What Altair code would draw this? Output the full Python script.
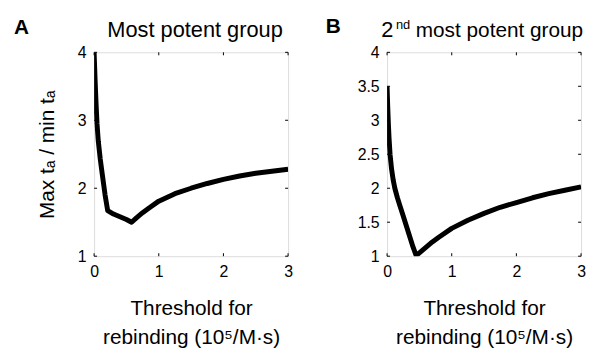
import altair as alt
import pandas as pd

# Panel A: Most potent group
xA = [0, 0.015, 0.03, 0.045, 0.065, 0.095, 0.127, 0.17, 0.21, 0.3, 0.4, 0.5, 0.58,
      0.65, 0.75, 0.85, 1.0, 1.25, 1.5, 1.75, 2.0, 2.25, 2.5, 2.75, 3.0]
yA = [4.0, 3.6, 3.25, 2.95, 2.69, 2.43, 2.2, 1.9, 1.67, 1.62, 1.58, 1.54, 1.5,
      1.56, 1.64, 1.71, 1.81, 1.92, 2.0, 2.07, 2.13, 2.18, 2.22, 2.25, 2.28]

# Panel B: 2nd most potent group
xB = [0, 0.01, 0.02, 0.03, 0.046, 0.07, 0.095, 0.12, 0.16, 0.2, 0.25, 0.3, 0.35, 0.4,
      0.45, 0.5, 0.6, 0.7, 0.8, 1.0, 1.25, 1.5, 1.75, 2.0, 2.25, 2.5, 2.75, 3.0]
yB = [3.5, 3.2, 2.95, 2.75, 2.5, 2.28, 2.12, 2.0, 1.86, 1.74, 1.59, 1.44, 1.29, 1.14,
      1.01, 1.05, 1.13, 1.21, 1.28, 1.41, 1.53, 1.63, 1.72, 1.79, 1.86, 1.92, 1.97, 2.02]

x_ticks = [0, 1, 2, 3]
yA_ticks = [1, 2, 3, 4]
yB_ticks = [1, 1.5, 2, 2.5, 3, 3.5, 4]

x_title = ["Threshold for", "rebinding (10\u2075/M\u00b7s)"]
y_title = "Max t\u2090 / min t\u2090"

W, H = 196, 206
FONT = "Liberation Sans"
TL = 3  # inward tick length


def one_row():
    return pd.DataFrame({"d": [0]})


def panel(xs, ys, yticks, ytitle, texts):
    xsc = alt.Scale(domain=[0, 3], nice=False, zero=False)
    ysc = alt.Scale(domain=[1, 4], nice=False, zero=False)
    xaxis = alt.Axis(values=x_ticks, ticks=False, domain=False, grid=False,
                     labelFontSize=16, labelPadding=8, labelFont=FONT,
                     labelColor="black", labelFlush=False, format="~g",
                     title=x_title, titleFont=FONT, titleFontSize=21,
                     titleFontWeight="normal", titleLineHeight=29,
                     titlePadding=18, titleColor="black")
    yargs = dict(values=yticks, ticks=False, domain=False, grid=False,
                 labelFontSize=16, labelPadding=8, labelFont=FONT,
                 labelColor="black", labelFlush=False, format="~g",
                 labelOverlap=False)
    if ytitle:
        yargs.update(title=ytitle, titleFont=FONT, titleFontSize=21,
                     titleFontWeight="normal", titlePadding=20, titleColor="black")
    else:
        yargs.update(title="")
    yaxis = alt.Axis(**yargs)

    df = pd.DataFrame({"x": xs, "y": ys})
    line = alt.Chart(df).mark_line(color="black", strokeWidth=5, clip=True,
                                   strokeJoin="round").encode(
        x=alt.X("x:Q", scale=xsc, axis=xaxis),
        y=alt.Y("y:Q", scale=ysc, axis=yaxis))

    xt = pd.DataFrame({"x": x_ticks})
    yt = pd.DataFrame({"y": yticks})
    rb = alt.Chart(xt).mark_rule(color="black", strokeWidth=1).encode(
        x=alt.X("x:Q", scale=xsc, axis=xaxis), y=alt.value(H), y2=alt.value(H - TL))
    rt = alt.Chart(xt).mark_rule(color="black", strokeWidth=1).encode(
        x=alt.X("x:Q", scale=xsc, axis=xaxis), y=alt.value(0), y2=alt.value(TL))
    rl = alt.Chart(yt).mark_rule(color="black", strokeWidth=1).encode(
        y=alt.Y("y:Q", scale=ysc, axis=yaxis), x=alt.value(0), x2=alt.value(TL))
    rr = alt.Chart(yt).mark_rule(color="black", strokeWidth=1).encode(
        y=alt.Y("y:Q", scale=ysc, axis=yaxis), x=alt.value(W), x2=alt.value(W - TL))

    layers = [line, rb, rt, rl, rr]
    for (txt, tx, ty, size, weight, align) in texts:
        layers.append(
            alt.Chart(one_row()).mark_text(
                text=txt, font=FONT, fontSize=size, fontWeight=weight,
                align=align, baseline="alphabetic", color="black").encode(
                x=alt.value(tx), y=alt.value(ty)))
    return alt.layer(*layers).properties(width=W, height=H)


textsA = [
    ("A", -81, -19, 21, "bold", "left"),
    ("Most potent group", 102, -15, 22, "normal", "center"),
]
textsB = [
    ("B", -62, -20, 21, "bold", "left"),
    ("2", -6, -15, 22, "normal", "left"),
    ("nd", 9, -24, 13, "normal", "left"),
    ("most potent group", 29, -15, 21, "normal", "left"),
]

pA = panel(xA, yA, yA_ticks, y_title, textsA)
pB = panel(xB, yB, yB_ticks, None, textsB)

chart = alt.hconcat(pA, pB, spacing=32).properties(
    padding={"left": 5, "top": 5, "right": 0, "bottom": 0}
).configure_view(stroke="black", strokeWidth=1).configure(background="white")

chart.save("out.html", embed_options={"renderer": "svg", "actions": False})
